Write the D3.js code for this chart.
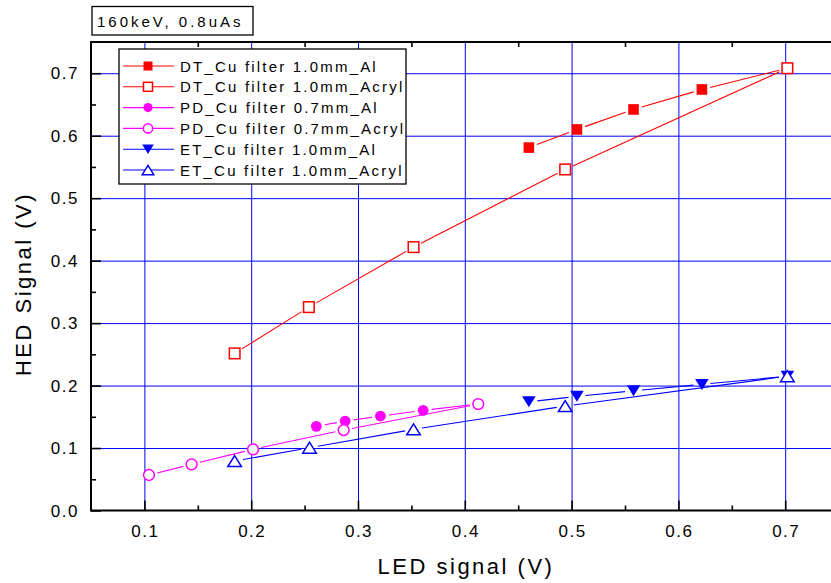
<!DOCTYPE html>
<html><head><meta charset="utf-8">
<script src="https://cdn.jsdelivr.net/npm/d3@7"></script>
<style>
  body { margin:0; background:#fff; }
  text { font-family:"Liberation Sans", Arial, sans-serif; fill:#000; }
</style>
</head><body>
<svg id="c" width="831" height="583"></svg>
<script>
// values
const xTicks = [0.1, 0.2, 0.3, 0.4, 0.5, 0.6, 0.7];
const xMinor = [0.15, 0.25, 0.35, 0.45, 0.55, 0.65];
const yTicks = [0.0, 0.1, 0.2, 0.3, 0.4, 0.5, 0.6, 0.7];
const yMinor = [0.05, 0.15, 0.25, 0.35, 0.45, 0.55, 0.65];

const dtAlX = [0.460, 0.505, 0.558, 0.622, 0.702];
const dtAlY = [0.581, 0.610, 0.642, 0.674, 0.708];
const dtAcX = [0.1845, 0.254, 0.352, 0.494, 0.702];
const dtAcY = [0.2515, 0.3256, 0.4216, 0.546, 0.708];
const pdAlX = [0.261, 0.288, 0.321, 0.361, 0.4126];
const pdAlY = [0.1347, 0.1432, 0.1512, 0.1603, 0.1704];
const pdAcX = [0.1043, 0.1442, 0.2017, 0.2866, 0.4126];
const pdAcY = [0.0568, 0.0739, 0.0979, 0.1288, 0.1704];
const etAlX = [0.460, 0.505, 0.558, 0.622, 0.702];
const etAlY = [0.174, 0.1827, 0.1917, 0.2019, 0.215];
const etAcX = [0.1845, 0.2546, 0.352, 0.494, 0.702];
const etAcY = [0.0792, 0.1005, 0.1299, 0.1672, 0.215];

const series = [
  { name: "DT_Cu filter 1.0mm_Al",    xs: dtAlX, ys: dtAlY, color: "#ff0000", shape: "square",  filled: true },
  { name: "DT_Cu filter 1.0mm_Acryl", xs: dtAcX, ys: dtAcY, color: "#ff0000", shape: "square",  filled: false },
  { name: "PD_Cu filter 0.7mm_Al",    xs: pdAlX, ys: pdAlY, color: "#ff00ff", shape: "circle",  filled: true },
  { name: "PD_Cu filter 0.7mm_Acryl", xs: pdAcX, ys: pdAcY, color: "#ff00ff", shape: "circle",  filled: false },
  { name: "ET_Cu filter 1.0mm_Al",    xs: etAlX, ys: etAlY, color: "#0000ff", shape: "tridown", filled: true },
  { name: "ET_Cu filter 1.0mm_Acryl", xs: etAcX, ys: etAcY, color: "#0000ff", shape: "triup",   filled: false },
];

const svg = d3.select("#c");
const L = 91, R = 838.6, T = 42, B = 510.5;
const x = d3.scaleLinear().domain([0.05, 0.75]).range([L, R]);
const y = d3.scaleLinear().domain([0, 0.75]).range([B, T]);

// grid
svg.append("g").attr("transform", `translate(0,${B})`)
  .call(d3.axisBottom(x).tickValues(xTicks).tickSize(-(B - T)).tickFormat(""))
  .call(g => g.select(".domain").remove())
  .call(g => g.selectAll("line").attr("stroke", "#0000ff").attr("stroke-width", 1));
svg.append("g").attr("transform", `translate(${L},0)`)
  .call(d3.axisLeft(y).tickValues(yTicks.filter(v => v > 0)).tickSize(-(R - L)).tickFormat(""))
  .call(g => g.select(".domain").remove())
  .call(g => g.selectAll("line").attr("stroke", "#0000ff").attr("stroke-width", 1));

// lines with small gaps at the markers
const gap = 8.5;
series.forEach(s => {
  const pts = s.xs.map((v, i) => [x(v), y(s.ys[i])]);
  for (let i = 0; i < pts.length - 1; i++) {
    const [x1, y1] = pts[i], [x2, y2] = pts[i + 1];
    const d = Math.hypot(x2 - x1, y2 - y1);
    if (d <= 2 * gap) continue;
    const ux = (x2 - x1) / d, uy = (y2 - y1) / d;
    svg.append("line")
      .attr("x1", x1 + ux * gap).attr("y1", y1 + uy * gap)
      .attr("x2", x2 - ux * gap).attr("y2", y2 - uy * gap)
      .attr("stroke", s.color).attr("stroke-width", 1.1);
  }
});

function marker(g, s, cx, cy, k) {
  const fill = s.filled ? s.color : "#fff";
  const sw = s.filled ? 0 : 1.5;
  if (s.shape === "square") {
    const h = 5.3 * k;
    g.append("rect").attr("x", cx - h).attr("y", cy - h).attr("width", 2 * h).attr("height", 2 * h)
      .attr("fill", fill).attr("stroke", s.color).attr("stroke-width", sw);
  } else if (s.shape === "circle") {
    g.append("circle").attr("cx", cx).attr("cy", cy).attr("r", 5.4 * k)
      .attr("fill", fill).attr("stroke", s.color).attr("stroke-width", sw);
  } else {
    const w = 6.8 * k, h = 5.5 * k, dir = s.shape === "triup" ? 1 : -1;
    const p = [[cx, cy - dir * h], [cx + w, cy + dir * h], [cx - w, cy + dir * h]];
    g.append("path").attr("d", "M" + p.join("L") + "Z")
      .attr("fill", fill).attr("stroke", s.color).attr("stroke-width", sw);
  }
}

const mg = svg.append("g");
series.forEach(s => s.xs.forEach((v, i) => marker(mg, s, x(v), y(s.ys[i]), 1)));

// axes frame and ticks
const ax = svg.append("g").attr("stroke", "#000");
ax.append("line").attr("x1", L).attr("x2", 831).attr("y1", B).attr("y2", B).attr("stroke-width", 2);
ax.append("line").attr("x1", L).attr("x2", 831).attr("y1", T).attr("y2", T).attr("stroke-width", 2);
ax.append("line").attr("x1", L).attr("x2", L).attr("y1", T - 1).attr("y2", B + 1).attr("stroke-width", 2);

svg.append("g").attr("transform", `translate(0,${B})`)
  .call(d3.axisBottom(x).tickValues(xTicks).tickSize(-10).tickFormat(""))
  .call(g => g.select(".domain").remove())
  .call(g => g.selectAll("line").attr("stroke", "#000").attr("stroke-width", 1.6));
svg.append("g").attr("transform", `translate(0,${B})`)
  .call(d3.axisBottom(x).tickValues(xMinor).tickSize(-5).tickFormat(""))
  .call(g => g.select(".domain").remove())
  .call(g => g.selectAll("line").attr("stroke", "#000").attr("stroke-width", 1.6));
svg.append("g").attr("transform", `translate(0,${T})`)
  .call(d3.axisTop(x).tickValues(xMinor).tickSize(-5).tickFormat(""))
  .call(g => g.select(".domain").remove())
  .call(g => g.selectAll("line").attr("stroke", "#000").attr("stroke-width", 1.6));
svg.append("g").attr("transform", `translate(${L},0)`)
  .call(d3.axisLeft(y).tickValues(yTicks).tickSize(-10).tickFormat(""))
  .call(g => g.select(".domain").remove())
  .call(g => g.selectAll("line").attr("stroke", "#000").attr("stroke-width", 1.6));
svg.append("g").attr("transform", `translate(${L},0)`)
  .call(d3.axisLeft(y).tickValues(yMinor).tickSize(-5).tickFormat(""))
  .call(g => g.select(".domain").remove())
  .call(g => g.selectAll("line").attr("stroke", "#000").attr("stroke-width", 1.6));

// tick labels
svg.append("g").selectAll("text").data(xTicks).join("text")
  .attr("x", d => x(d) + 1).attr("y", B + 26).attr("text-anchor", "middle")
  .style("font-size", "17px").style("letter-spacing", "1.5px")
  .text(d => d3.format(".1f")(d));
svg.append("g").selectAll("text").data(yTicks).join("text")
  .attr("x", 79).attr("y", d => y(d) + 6).attr("text-anchor", "end")
  .style("font-size", "17px").style("letter-spacing", "1.5px")
  .text(d => d3.format(".1f")(d));

// axis titles
svg.append("text").attr("x", 466).attr("y", 574).attr("text-anchor", "middle")
  .style("font-size", "22px").style("letter-spacing", "2.5px").text("LED signal (V)");
svg.append("text").attr("transform", "translate(31,284) rotate(-90)").attr("text-anchor", "middle")
  .style("font-size", "22px").style("letter-spacing", "2.5px").text("HED Signal (V)");

// title box
svg.append("rect").attr("x", 92).attr("y", 6.5).attr("width", 161).attr("height", 28.5)
  .attr("fill", "#fff").attr("stroke", "#000").attr("stroke-width", 1.3);
svg.append("text").attr("x", 97).attr("y", 26.5)
  .style("font-size", "15px").style("letter-spacing", "3px").text("160keV, 0.8uAs");

// legend
const lg = svg.append("g");
lg.append("rect").attr("x", 119).attr("y", 49).attr("width", 287).attr("height", 135)
  .attr("fill", "#fff").attr("stroke", "#000").attr("stroke-width", 1.3);
series.forEach((s, i) => {
  const ry = 66 + i * 20.8;
  lg.append("line").attr("x1", 123).attr("x2", 174).attr("y1", ry).attr("y2", ry)
    .attr("stroke", s.color).attr("stroke-width", 1.1);
  marker(lg, s, 148, ry, 0.85);
  lg.append("text").attr("x", 180).attr("y", ry + 5.5)
    .style("font-size", "15px").style("letter-spacing", "2.2px").text(s.name);
});
</script>
</body></html>
